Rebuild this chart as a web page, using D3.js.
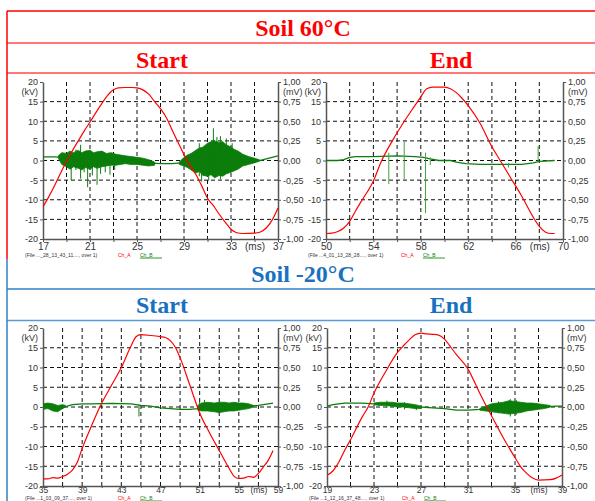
<!DOCTYPE html>
<html>
<head>
<meta charset="utf-8">
<script src="https://cdn.jsdelivr.net/npm/d3@7"></script>
<style>
  body { margin: 0; background: #fff; }
  svg { display: block; }
</style>
</head>
<body>
<div id="chart"></div>
<script>
// ---------------------------------------------------------
// Data read off the four scope captures
// Ch_A = applied voltage (kV, red), Ch_B = PD signal (mV, green)
// ---------------------------------------------------------

// Soil 60°C - Start (17..37 ms)
const s60StartChA = [[17,-11.8],[17.5,-9.2],[18,-6.3],[18.5,-3.2],[19,-0.2],[19.5,2.5],[20,5.0],[20.5,7.5],[21,9.8],[21.5,12.2],[22,14.5],[22.5,16.6],[23,18.0],[23.4,18.5],[24,18.6],[24.6,18.6],[25,18.5],[25.5,18.0],[26,16.9],[26.5,15.0],[27,13.2],[27.5,10.9],[28,7.7],[28.5,4.6],[29,1.5],[29.5,-1.3],[30,-3.5],[30.5,-6.4],[31,-9.6],[31.5,-11.5],[32,-13.7],[32.5,-15.7],[33,-17.5],[33.5,-18.4],[34,-18.6],[35,-18.5],[35.5,-18.2],[36,-17.2],[36.5,-15.2],[37,-12.1]];
const s60StartChB = [[17,0.045],[18,0.045],[18.5,0.04],[19,0.03],[20,0.02],[21,0.02],[22,0.02],[23,0.01],[24,0.0],[25,-0.01],[26,-0.03],[27,-0.04],[28,-0.04],[28.8,-0.03],[30,-0.01],[32,0.0],[34,0.0],[35.5,0.0],[36,0.02],[37,0.06]];
const s60StartBand = [[18.3,0.03,0.06],[18.6,-0.05,0.10],[19,-0.08,0.09],[19.3,-0.11,0.12],[19.6,-0.08,0.10],[20,-0.10,0.13],[20.3,-0.12,0.10],[20.6,-0.09,0.12],[21,-0.11,0.13],[21.3,-0.08,0.10],[21.6,-0.10,0.11],[22,-0.08,0.12],[22.4,-0.07,0.09],[22.8,-0.06,0.10],[23.2,-0.06,0.08],[23.6,-0.05,0.07],[24,-0.04,0.06],[24.5,-0.05,0.05],[25,-0.05,0.04],[25.5,-0.06,0.03],[26,-0.07,0.01],[26.5,-0.06,-0.02],
  [28.6,-0.05,-0.02],[29,-0.07,0.04],[29.3,-0.09,0.07],[29.6,-0.12,0.09],[30,-0.16,0.13],[30.3,-0.14,0.16],[30.6,-0.19,0.17],[31,-0.20,0.22],[31.3,-0.18,0.24],[31.6,-0.22,0.25],[32,-0.19,0.23],[32.3,-0.20,0.24],[32.6,-0.17,0.20],[33,-0.15,0.17],[33.3,-0.13,0.14],[33.6,-0.11,0.12],[34,-0.07,0.08],[34.5,-0.05,0.05],[35,-0.03,0.03],[35.4,-0.01,0.01]];
const s60StartSpikes = [[19.4,-0.25,0.05],[19.8,-0.12,0.14],[20.2,-0.23,0.20],[20.5,-0.15,0.10],[20.8,-0.34,0.08],[21.2,-0.19,0.10],[21.6,-0.31,0.08],[21.9,-0.17,0.09],[22.3,-0.15,0.06],[22.7,-0.18,0.06],[23.1,-0.12,0.05],
  [30.3,-0.20,0.22],[30.5,-0.27,0.15],[31.1,-0.26,0.20],[31.5,-0.20,0.41],[31.8,-0.18,0.30],[32.1,-0.24,0.31],[32.6,-0.15,0.28],[33.1,-0.12,0.22]];

// Soil 60°C - End (50..70 ms)
const s60EndChA = [[50,-18.6],[50.5,-18.5],[51,-18.1],[51.5,-17.2],[52,-15.5],[52.5,-12.8],[53,-10.3],[54,-5.2],[54.7,0],[55.5,4.5],[56.5,9.5],[57.5,14.0],[58,16.2],[58.5,18.3],[59,18.7],[60,18.7],[60.5,18.3],[61,17.3],[61.5,15.8],[62,14.0],[63,9.5],[64,3.5],[64.7,0],[65.5,-4.0],[66.5,-9.0],[67.5,-14.5],[68,-16.8],[68.5,-18.2],[69,-18.6],[69.3,-18.6]];
const s60EndChB = [[50,0.0],[51,0.0],[51.5,0.01],[52,0.04],[52.5,0.05],[54,0.05],[56,0.06],[57.5,0.05],[58.2,0.04],[58.8,0.02],[59.5,0.0],[60.5,0.0],[61,-0.02],[61.8,-0.04],[63,-0.05],[65,-0.05],[66.5,-0.05],[67.5,-0.03],[68,-0.01],[69.3,0.0]];
const s60EndBand = [];
const s60EndSpikes = [[55.3,-0.30,0.10],[56.6,-0.24,0.24],[58.4,-0.67,0.10],[58.8,-0.06,0.04],[65.4,-0.09,-0.03],[67.9,-0.02,0.18]];

// Soil -20°C - Start (35..59 ms)
const sm20StartChA = [[35,-18.2],[35.5,-18.2],[36,-17.9],[36.5,-18.0],[37,-17.6],[37.5,-17.0],[38,-16.0],[38.5,-14.0],[39,-10.5],[40,-4.5],[40.8,0],[42,5.5],[43,10.0],[44,15.5],[44.5,17.8],[45,18.3],[46,18.1],[47,17.8],[47.5,17.6],[48,16.8],[48.5,15.2],[49,12.5],[50,5.5],[51,-1.5],[52,-6.5],[53,-11.0],[54,-15.5],[54.5,-17.5],[55,-18.1],[55.5,-18.0],[56,-17.6],[56.5,-17.8],[57,-16.8],[57.5,-15.2],[58,-13.5],[58.5,-11.0]];
const sm20StartChB = [[35,0.01],[35.5,0.01],[36,0.0],[36.5,-0.01],[37,0.0],[37.5,0.01],[38,0.03],[39,0.04],[40,0.04],[42,0.045],[44,0.04],[44.5,0.03],[45,0.02],[46,0.01],[47,-0.01],[48,-0.02],[49,-0.03],[50,-0.03],[50.8,-0.02],[52,0.0],[54,0.0],[55,0.01],[56,0.01],[57,0.02],[58,0.04],[58.5,0.05]];
const sm20StartBand = [[35,-0.03,0.04],[35.5,-0.02,0.05],[36,-0.05,0.04],[36.5,-0.06,0.02],[37,-0.02,0.03],[37.3,0.0,0.02],
  [50.8,-0.04,0.02],[51.2,-0.05,0.05],[51.8,-0.05,0.06],[52.5,-0.06,0.05],[53,-0.07,0.06],[53.5,-0.06,0.06],[54,-0.05,0.05],[54.5,-0.05,0.06],[55,-0.04,0.05],[55.5,-0.03,0.05],[56,-0.02,0.04],[56.5,0.0,0.02]];
const sm20StartSpikes = [[44.8,-0.12,0.03],[51.0,-0.04,0.07],[51.5,-0.03,0.09],[52.9,-0.08,0.03]];

// Soil -20°C - End (19..39 ms)
const sm20EndChA = [[19,-17.3],[19.5,-16.2],[20,-14.0],[20.5,-11.0],[21,-8.3],[22,-2.5],[22.5,0],[23,3.5],[24,9.0],[25,13.8],[25.5,15.5],[26,17.0],[26.5,18.3],[27,18.7],[27.5,18.5],[28,18.4],[28.5,18.2],[29,17.2],[29.5,15.3],[30,13.3],[31,9.6],[32,3.5],[32.6,0],[33,-2.2],[34,-7.8],[35,-12.8],[35.5,-15.2],[36,-16.8],[36.5,-18.0],[37,-18.5],[38,-18.4],[38.5,-18.0],[39,-17.2]];
const sm20EndChB = [[19,0.01],[19.5,0.03],[20,0.04],[20.5,0.05],[22,0.05],[23,0.04],[24,0.04],[25,0.03],[26,0.02],[27,0.0],[28,-0.01],[29,-0.02],[30,-0.04],[31,-0.04],[32,-0.03],[33,-0.01],[34,0.0],[36,0.0],[37.5,0.0],[38.5,0.01],[39,0.01]];
const sm20EndBand = [[23,0.03,0.05],[23.5,0.02,0.06],[24,0.02,0.06],[24.5,0.01,0.06],[25,0.0,0.05],[25.5,0.0,0.05],[26,-0.01,0.04],[26.5,-0.02,0.03],[27,-0.02,0.01],
  [32,-0.04,-0.02],[32.5,-0.05,0.01],[33,-0.06,0.04],[33.5,-0.07,0.05],[34,-0.08,0.06],[34.5,-0.09,0.08],[35,-0.08,0.07],[35.5,-0.07,0.06],[36,-0.05,0.05],[36.5,-0.04,0.05],[37,-0.03,0.04],[37.5,-0.02,0.03],[38,0.0,0.02]];
const sm20EndSpikes = [[24.1,-0.01,0.08],[25.6,-0.03,0.06],[26.6,-0.04,0.02],[33.6,-0.08,0.07],[34.6,-0.12,0.10],[35.1,-0.10,0.09]];

// tick labels (labelled every 4 ms, the one before last is the unit)
const s60StartTicks = ['17','21','25','29','33','(ms)','37'];
const s60EndTicks = ['50','54','58','62','66','(ms)','70'];
const sm20StartTicks = ['35','39','43','47','51','55','(ms)','59'];
const sm20EndTicks = ['19','23','27','31','35','(ms)','39'];
const kvTicks = [-20,-15,-10,-5,0,5,10,15,20];
const mvTicks = [-1,-0.75,-0.5,-0.25,0,0.25,0.5,0.75,1];

const fileLabels = ['(File ..._28_13_43_11...., over 1)', '(File ...4_01_13_28_28...., over 1)',
                    '(File ...1_03_09_37...., over 1)', '(File ...1_12_16_37_48...., over 1)'];

// ---------------------------------------------------------
// Layout
// ---------------------------------------------------------
const W = 595, H = 501;
const RED = '#ff0000', BLUE = '#1872c0', GREEN = '#0b7d0b';

const svg = d3.select('#chart').append('svg')
  .attr('width', W).attr('height', H)
  .style('background', '#fff');

const serif = '"Liberation Serif", "Times New Roman", serif';
const sans = '"Liberation Sans", Arial, sans-serif';

// header boxes
svg.append('line').attr('x1', 7).attr('x2', W).attr('y1', 11).attr('y2', 11).attr('stroke', RED).attr('stroke-width', 1.5);
svg.append('line').attr('x1', 7).attr('x2', W).attr('y1', 43).attr('y2', 43).attr('stroke', '#f77').attr('stroke-width', 2);
svg.append('line').attr('x1', 7).attr('x2', W).attr('y1', 73).attr('y2', 73).attr('stroke', '#f77').attr('stroke-width', 2);
svg.append('line').attr('x1', 7).attr('x2', 7).attr('y1', 11).attr('y2', 259).attr('stroke', RED).attr('stroke-width', 1.5);

svg.append('line').attr('x1', 7).attr('x2', W).attr('y1', 289).attr('y2', 289).attr('stroke', '#2f80c8').attr('stroke-width', 1.5);
svg.append('line').attr('x1', 7).attr('x2', W).attr('y1', 320.5).attr('y2', 320.5).attr('stroke', '#5b9bd5').attr('stroke-width', 1.5);
svg.append('line').attr('x1', 7).attr('x2', 7).attr('y1', 259).attr('y2', H).attr('stroke', '#2f80c8').attr('stroke-width', 1.5);

const headers = [
  { text: 'Soil 60°C', x: 303, y: 36, color: RED },
  { text: 'Start', x: 162, y: 68, color: RED },
  { text: 'End', x: 451, y: 68, color: RED },
  { text: 'Soil -20°C', x: 303, y: 282, color: BLUE },
  { text: 'Start', x: 162, y: 313, color: BLUE },
  { text: 'End', x: 451, y: 313, color: BLUE }
];
svg.selectAll('.hdr').data(headers).enter()
  .append('text')
  .attr('x', d => d.x).attr('y', d => d.y)
  .attr('text-anchor', 'middle')
  .attr('font-family', serif).attr('font-weight', 'bold').attr('font-size', 24)
  .attr('fill', d => d.color)
  .text(d => d.text);

// ---------------------------------------------------------
// Panels
// ---------------------------------------------------------
const panels = [
  { x0: 43, x1: 278, y0: 82, y1: 239, legendY: 257, tick: 3, xFont: 10, xDy: '0.66em', domain: [17, 37], ticks: s60StartTicks, chA: s60StartChA, chB: s60StartChB, band: s60StartBand, spikes: s60StartSpikes, file: fileLabels[0], spikeColor: GREEN },
  { x0: 326, x1: 563, y0: 82, y1: 239, legendY: 257, tick: 3, xFont: 10, xDy: '0.66em', domain: [50, 70], ticks: s60EndTicks, chA: s60EndChA, chB: s60EndChB, band: s60EndBand, spikes: s60EndSpikes, file: fileLabels[1], spikeColor: '#3fa03f' },
  { x0: 43, x1: 278, y0: 328, y1: 486, legendY: 500, tick: 2, xFont: 8.5, xDy: '0.5em', domain: [35, 59], ticks: sm20StartTicks, chA: sm20StartChA, chB: sm20StartChB, band: sm20StartBand, spikes: sm20StartSpikes, file: fileLabels[2], spikeColor: GREEN },
  { x0: 327, x1: 562, y0: 328, y1: 486, legendY: 500, tick: 2, xFont: 8.5, xDy: '0.5em', domain: [19, 39], ticks: sm20EndTicks, chA: sm20EndChA, chB: sm20EndChB, band: sm20EndBand, spikes: sm20EndSpikes, file: fileLabels[3], spikeColor: GREEN }
];

panels.forEach((p, i) => drawPanel(p, i));

function drawPanel(p, i) {
  const x = d3.scaleLinear().domain(p.domain).range([p.x0, p.x1]);
  const yKV = d3.scaleLinear().domain([-20, 20]).range([p.y1, p.y0]);
  const yMV = d3.scaleLinear().domain([-1, 1]).range([p.y1, p.y0]);

  const g = svg.append('g');

  g.append('clipPath').attr('id', 'clip' + i)
    .append('rect')
    .attr('x', p.x0).attr('y', p.y0)
    .attr('width', p.x1 - p.x0).attr('height', p.y1 - p.y0);

  // grid (dashed)
  const minor = d3.range(p.domain[0] + 2, p.domain[1], 2);
  g.selectAll('.vgrid').data(minor).enter()
    .append('line')
    .attr('x1', d => x(d)).attr('x2', d => x(d))
    .attr('y1', p.y0).attr('y2', p.y1)
    .attr('stroke', '#111').attr('stroke-width', 1).attr('stroke-dasharray', '4,3');
  g.selectAll('.hgrid').data(kvTicks.slice(1, -1)).enter()
    .append('line')
    .attr('x1', p.x0).attr('x2', p.x1)
    .attr('y1', d => yKV(d)).attr('y2', d => yKV(d))
    .attr('stroke', '#111').attr('stroke-width', 1).attr('stroke-dasharray', '4,3');

  // axes
  const labelled = d3.range(p.domain[0], p.domain[1] + 0.01, 4);
  labelled.splice(labelled.length - 1, 0, p.domain[1] - 2);
  const labelOf = new Map(labelled.map((v, k) => [v, p.ticks[k]]));

  const xAxis = g.append('g')
    .attr('transform', `translate(0,${p.y1})`)
    .call(d3.axisBottom(x).tickValues(d3.range(p.domain[0], p.domain[1] + 0.01, 2))
      .tickSize(p.tick).tickSizeOuter(0).tickPadding(1)
      .tickFormat(d => labelOf.get(d) || ''));

  const yAxisL = g.append('g')
    .attr('transform', `translate(${p.x0},0)`)
    .call(d3.axisLeft(yKV).tickValues(kvTicks).tickSize(3).tickSizeOuter(0).tickPadding(2)
      .tickFormat(d => String(d)));

  const yAxisR = g.append('g')
    .attr('transform', `translate(${p.x1},0)`)
    .call(d3.axisRight(yMV).tickValues(mvTicks).tickSize(3).tickSizeOuter(0).tickPadding(2)
      .tickFormat(d => d.toFixed(2).replace('.', ',')));

  [xAxis, yAxisL, yAxisR].forEach(a => {
    a.select('.domain').attr('stroke', '#555').attr('stroke-width', 1.5);
    a.selectAll('.tick line').attr('stroke', '#555');
    a.selectAll('text').attr('font-family', sans).attr('font-size', 9).attr('fill', '#333');
  });
  xAxis.selectAll('text').attr('font-size', p.xFont).attr('dy', p.xDy);

  // units under the top labels
  g.append('text').attr('x', p.x0 - 5).attr('y', yKV(17.5) + 3.5)
    .attr('text-anchor', 'end').attr('font-family', sans).attr('font-size', 9).attr('fill', '#333')
    .text('(kV)');
  g.append('text').attr('x', p.x1 + 5).attr('y', yMV(0.875) + 3.5)
    .attr('font-family', sans).attr('font-size', 9).attr('fill', '#333')
    .text('(mV)');

  const plot = g.append('g').attr('clip-path', `url(#clip${i})`);

  // Ch_B noise envelope, baseline and single discharges
  const bandArea = d3.area()
    .x(d => x(d[0])).y0(d => yMV(d[1])).y1(d => yMV(d[2]));
  // split band where there is a gap of more than 1 ms
  const bands = [];
  p.band.forEach((d, k) => {
    if (k === 0 || d[0] - p.band[k - 1][0] > 1) bands.push([]);
    bands[bands.length - 1].push(d);
  });
  plot.selectAll('.band').data(bands).enter()
    .append('path')
    .attr('d', bandArea)
    .attr('fill', GREEN).attr('stroke', GREEN).attr('stroke-width', 0.8);

  plot.append('path')
    .datum(p.chB)
    .attr('fill', 'none')
    .attr('stroke', GREEN).attr('stroke-width', 1.3)
    .attr('d', d3.line().x(d => x(d[0])).y(d => yMV(d[1])));

  plot.selectAll('.spike').data(p.spikes).enter()
    .append('line')
    .attr('x1', d => x(d[0])).attr('x2', d => x(d[0]))
    .attr('y1', d => yMV(d[1])).attr('y2', d => yMV(d[2]))
    .attr('stroke', p.spikeColor).attr('stroke-width', 1);

  // Ch_A voltage
  plot.append('path')
    .datum(p.chA)
    .attr('fill', 'none')
    .attr('stroke', RED).attr('stroke-width', 1.2)
    .attr('d', d3.line().curve(d3.curveMonotoneX).x(d => x(d[0])).y(d => yKV(d[1])));

  // tiny file / channel legend under the axis
  const lx = p.x0 - 18, ly = p.legendY;
  g.append('text').attr('x', lx).attr('y', ly)
    .attr('font-family', sans).attr('font-size', 5).attr('fill', '#333')
    .text(p.file);
  g.append('text').attr('x', lx + 93).attr('y', ly)
    .attr('font-family', sans).attr('font-size', 5).attr('fill', RED)
    .text('Ch_A');
  g.append('text').attr('x', lx + 115).attr('y', ly)
    .attr('font-family', sans).attr('font-size', 5).attr('fill', GREEN)
    .text('Ch_B');
  g.append('line').attr('x1', lx + 115).attr('x2', lx + 137)
    .attr('y1', ly + 1).attr('y2', ly + 1)
    .attr('stroke', '#2a9a2a').attr('stroke-width', 1);
}
</script>
</body>
</html>
